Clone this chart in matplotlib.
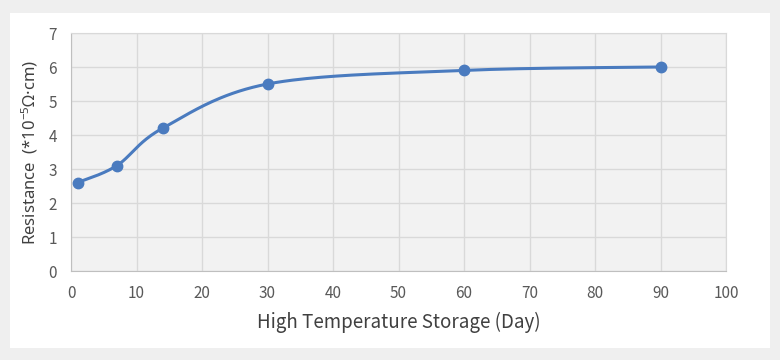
import numpy as np
import matplotlib.pyplot as plt
from matplotlib.patches import Rectangle

days = [1, 7, 14, 30, 60, 90]
resistance = [2.6, 3.1, 4.2, 5.5, 5.9, 6.0]

plt.rcParams['font.family'] = ['Noto Sans CJK SC', 'DejaVu Sans']
plt.rcParams['mathtext.fontset'] = 'custom'
plt.rcParams['mathtext.rm'] = 'Noto Sans'
plt.rcParams['mathtext.it'] = 'Noto Sans'
plt.rcParams['mathtext.default'] = 'rm'


def smooth(xs, ys, n=40):
    # excel-style smoothed line: cubic bezier with catmull-rom control points
    p = np.column_stack([xs, ys]).astype(float)
    p = np.vstack([p[0], p, p[-1]])
    out = []
    for i in range(1, len(p) - 2):
        p0, p1, p2, p3 = p[i - 1], p[i], p[i + 1], p[i + 2]
        c1 = p1 + (p2 - p0) / 6
        c2 = p2 - (p3 - p1) / 6
        t = np.linspace(0, 1, n)[:, None]
        seg = ((1 - t) ** 3) * p1 + 3 * ((1 - t) ** 2) * t * c1 + 3 * (1 - t) * t ** 2 * c2 + t ** 3 * p2
        out.append(seg)
    out = np.vstack(out)
    return out[:, 0], out[:, 1]


fig = plt.figure(figsize=(7.8, 3.6), dpi=100, facecolor='#efefef')
fig.add_artist(Rectangle((10 / 780, 1 - 348 / 360), 760 / 780, 335 / 360,
                         transform=fig.transFigure, facecolor='white',
                         edgecolor='none', zorder=-1))

ax = fig.add_axes([71 / 780, 1 - 271 / 360, 655 / 780, 238 / 360])
ax.set_facecolor('#f2f2f2')

sx, sy = smooth(days, resistance)
color = '#4a7bbf'
ax.plot(sx, sy, color=color, lw=2.2, solid_capstyle='round', zorder=3)
ax.plot(days, resistance, 'o', color=color, ms=7.5, zorder=4)

ax.set_xlim(0, 100)
ax.set_ylim(0, 7)
ax.set_xticks(range(0, 101, 10))
ax.set_yticks(range(0, 8))
ax.grid(True, color='#d9d9d9', lw=1)
ax.set_axisbelow(True)
for side in ['top', 'right']:
    ax.spines[side].set_color('#d9d9d9')
for side in ['left', 'bottom']:
    ax.spines[side].set_color('#bfbfbf')
ax.tick_params(length=0, labelsize=11, labelcolor='#595959', pad=10)

ax.set_xlabel('High Temperature Storage (Day)', fontsize=13.5, color='#404040', labelpad=7)
ax.set_ylabel('Resistance  (*10$^{-5}$Ω·cm)', fontsize=12, color='#404040', labelpad=6,
              family=['Noto Sans', 'DejaVu Sans'])

fig.savefig('out.png', dpi=100, facecolor=fig.get_facecolor())
